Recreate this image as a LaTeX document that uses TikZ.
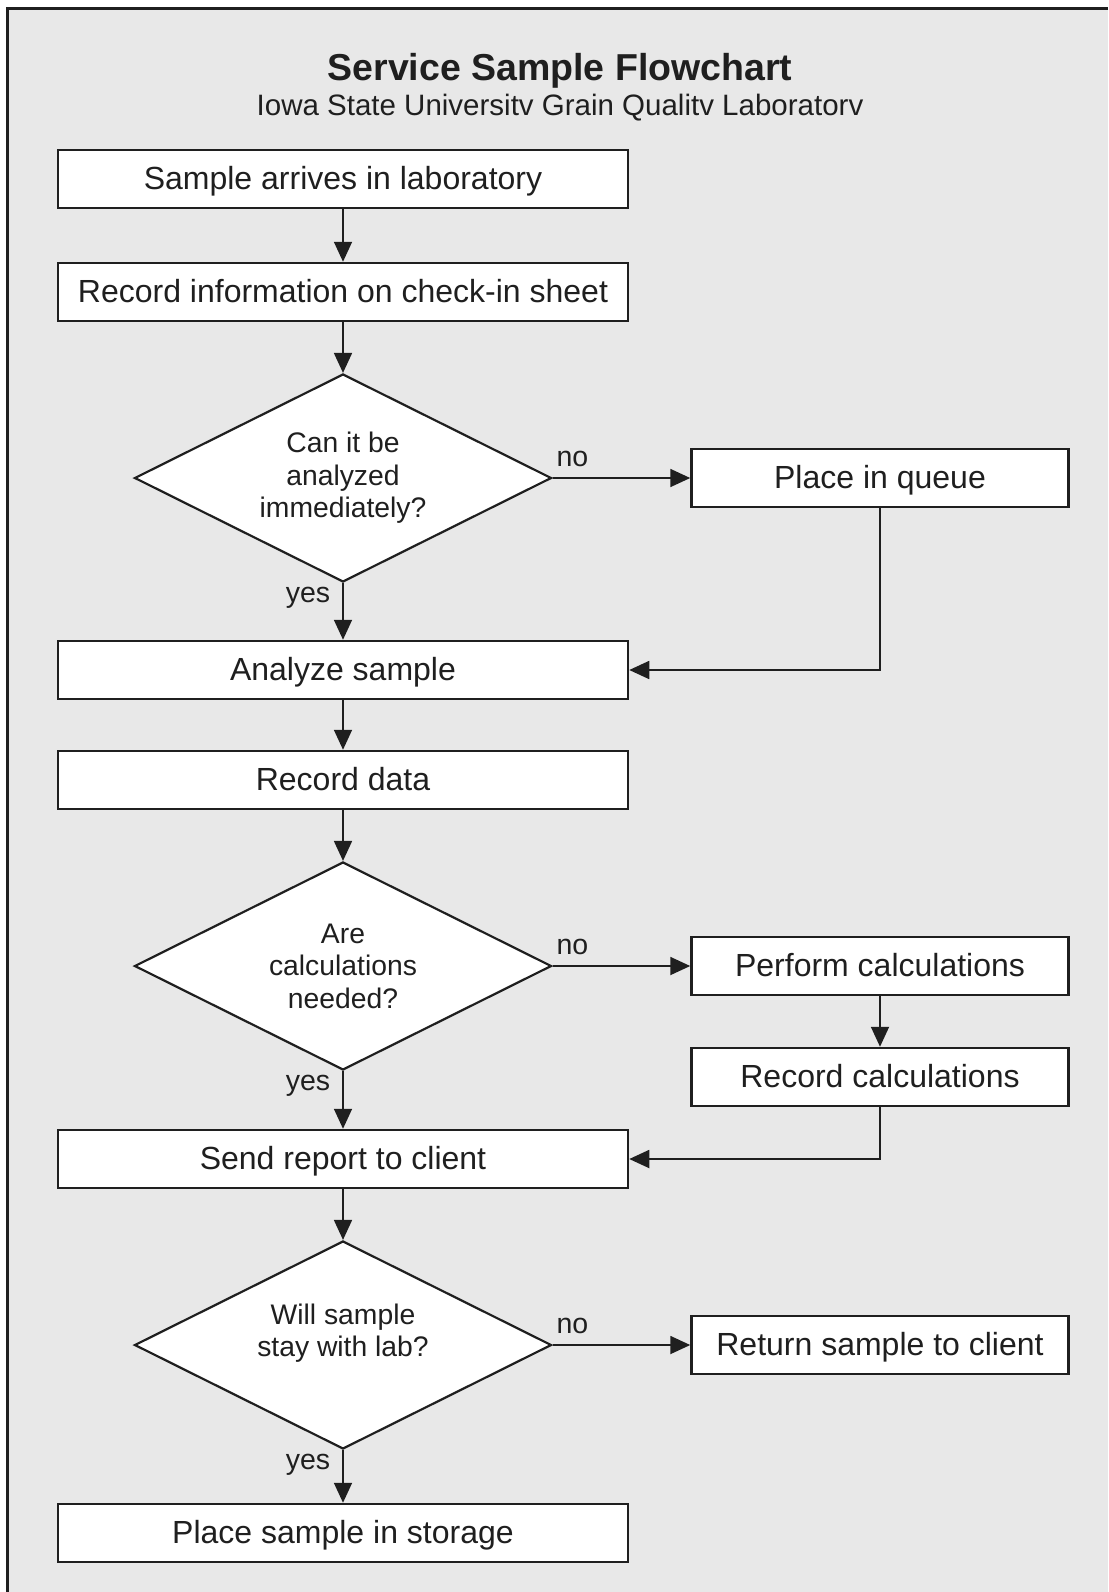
\documentclass[tikz,border=0pt]{standalone}
\usepackage{fontspec}
\setmainfont{Liberation Sans}
\usetikzlibrary{shapes.geometric, arrows.meta}
\definecolor{paper}{gray}{0.91}
\definecolor{ink}{gray}{0.12}

\begin{document}
\begin{tikzpicture}[x=1pt, y=-1pt, ink, line width=1.8pt,
    >={Triangle[length=20pt, width=18pt]},
    box/.style={rectangle, draw=ink, line width=2.5pt, fill=white, inner sep=0pt,
        minimum height=58pt, text height=25pt, text depth=5pt,
        font=\fontsize{32}{38}\selectfont},
    wide/.style={box, minimum width=570pt},
    side/.style={box, minimum width=377pt},
    ask/.style={diamond, aspect=2, draw=ink, line width=2.2pt, fill=white, inner sep=0pt,
        minimum width=417pt, minimum height=208pt, align=center,
        font=\fontsize{28.3}{32.5}\selectfont},
    lbl/.style={inner sep=3pt, font=\fontsize{28.5}{32}\selectfont}]
    \useasboundingbox (0, 0) rectangle (1108, 1592);
    \fill[paper] (7, 9) rectangle (1108, 1592);
    \draw[line width=3pt] (7, 1592) -- (7, 9) -- (1108, 9);

    \node[anchor=base, font=\fontsize{37.5}{40}\bfseries\selectfont] at (560, 81) (title) {Service Sample Flowchart};
    \node[anchor=base, font=\fontsize{29.5}{32}\selectfont] at (560, 116) (subtitle) {Iowa State Universitv Grain Qualitv Laboratorv};

    \node[wide] at (343, 179) (arrive) {Sample arrives in laboratory};
    \node[wide] at (343, 292) (checkin) {Record information on check-in sheet};
    \node[ask] at (343, 478) (canit) {Can it be\\analyzed\\immediately?};
    \node[side] at (880, 478) (queue) {Place in queue};
    \node[wide] at (343, 670) (analyze) {Analyze sample};
    \node[wide] at (343, 780) (recdata) {Record data};
    \node[ask] at (343, 966) (calcs) {Are\\calculations\\needed?};
    \node[side] at (880, 966) (perform) {Perform calculations};
    \node[side] at (880, 1077) (reccalc) {Record calculations};
    \node[wide] at (343, 1159) (report) {Send report to client};
    \node[ask, text depth=30pt] at (343, 1345) (stay) {Will sample\\stay with lab?};
    \node[side] at (880, 1345) (giveback) {Return sample to client};
    \node[wide] at (343, 1533) (storage) {Place sample in storage};

    \draw[->] (arrive) edge (checkin);
    \draw[->] (checkin) edge (canit);
    \draw[->] (canit) edge node[lbl, pos=0, anchor=south west, yshift=7.5pt] {no} (queue);
    \draw[->] (canit) edge node[lbl, pos=0, anchor=north east, xshift=-9pt] {yes} (analyze);
    \draw[->] (queue) |- (analyze);
    \draw[->] (analyze) edge (recdata);
    \draw[->] (recdata) edge (calcs);
    \draw[->] (calcs) edge node[lbl, pos=0, anchor=south west, yshift=7.5pt] {no} (perform);
    \draw[->] (calcs) edge node[lbl, pos=0, anchor=north east, xshift=-9pt] {yes} (report);
    \draw[->] (perform) edge (reccalc);
    \draw[->] (reccalc) |- (report);
    \draw[->] (report) edge (stay);
    \draw[->] (stay) edge node[lbl, pos=0, anchor=south west, yshift=7.5pt] {no} (giveback);
    \draw[->] (stay) edge node[lbl, pos=0, anchor=north east, xshift=-9pt] {yes} (storage);
\end{tikzpicture}
\end{document}
